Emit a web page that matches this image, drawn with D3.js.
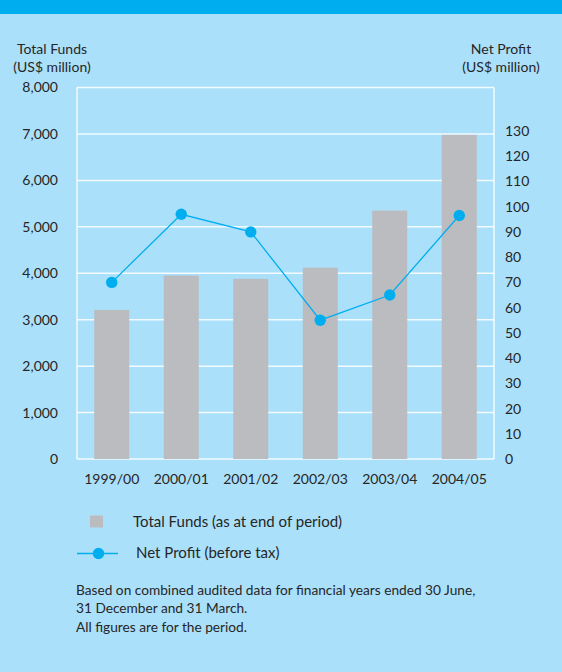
<!DOCTYPE html>
<html>
<head>
<meta charset="utf-8">
<script src="https://cdn.jsdelivr.net/npm/d3@7"></script>
<style>
  html, body { margin: 0; padding: 0; background: #abe0fa; }
  svg { display: block; }
  text { font-family: Lato, "Open Sans", sans-serif; fill: #262626; }
</style>
</head>
<body>
<svg id="chart" width="562" height="672"></svg>
<script>
// Financial periods
const periods = ["1999/00", "2000/01", "2001/02", "2002/03", "2003/04", "2004/05"];
// Total funds at end of period, US$ million (left axis)
const totalFunds = [3210, 3950, 3880, 4120, 5350, 6980];
// Net profit before tax, US$ million (right axis)
const netProfit = [70, 97, 90, 55, 65, 96.5];
// Axis ticks
const fundTicks = [0, 1000, 2000, 3000, 4000, 5000, 6000, 7000, 8000];
const profitTicks = [0, 10, 20, 30, 40, 50, 60, 70, 80, 90, 100, 110, 120, 130];
// Legend and notes
const legendLabels = ["Total Funds (as at end of period)", "Net Profit (before tax)"];
const noteLines = [
  "Based on combined audited data for financial years ended 30 June,",
  "31 December and 31 March.",
  "All figures are for the period."
];

const svg = d3.select("#chart");
const W = 562, H = 672;
const plotL = 77, plotR = 494, plotT = 87.5, plotB = 459;

const cBand = "#00aeef", cBg = "#abe0fa", cBar = "#bbbcc0", cLine = "#00aeef";

svg.append("rect").attr("width", W).attr("height", H).attr("fill", cBg);
svg.append("rect").attr("width", W).attr("height", 14).attr("fill", cBand);

const x = d3.scaleBand().domain(periods).range([plotL, plotR])
  .paddingInner(0.496).paddingOuter(0.248);
const yL = d3.scaleLinear().domain([0, 8000]).range([plotB, plotT]);
const yR = d3.scaleLinear().domain([0, 130]).range([plotB, 131]);

// gridlines
svg.append("g").selectAll("line").data(fundTicks).join("line")
  .attr("x1", plotL).attr("x2", plotR)
  .attr("y1", d => yL(d)).attr("y2", d => yL(d))
  .attr("stroke", "#ffffff").attr("stroke-opacity", 0.85).attr("stroke-width", 1.5);

// frame sides
[plotL, plotR].forEach(xp =>
  svg.append("line").attr("x1", xp).attr("x2", xp).attr("y1", plotT).attr("y2", plotB)
    .attr("stroke", "#fff").attr("stroke-opacity", 0.85).attr("stroke-width", 1.5));

// bars
svg.append("g").selectAll("rect").data(periods).join("rect")
  .attr("x", d => x(d)).attr("width", x.bandwidth())
  .attr("y", (d, i) => yL(totalFunds[i]))
  .attr("height", (d, i) => yL(0) - yL(totalFunds[i]))
  .attr("fill", cBar);

// net profit line
const cx = d => x(d) + x.bandwidth() / 2;
const line = d3.line().x((d, i) => cx(periods[i])).y(d => yR(d));
svg.append("path").datum(netProfit).attr("d", line)
  .attr("fill", "none").attr("stroke", cLine).attr("stroke-width", 1.3);
svg.append("g").selectAll("circle").data(netProfit).join("circle")
  .attr("cx", (d, i) => cx(periods[i])).attr("cy", d => yR(d))
  .attr("r", 5.7).attr("fill", cLine);

// axes
const axL = d3.axisLeft(yL).tickValues(fundTicks).tickSize(0).tickPadding(0)
  .tickFormat(d3.format(","));
const gL = svg.append("g").attr("transform", "translate(58,0)").call(axL);
const axR = d3.axisRight(yR).tickValues(profitTicks).tickSize(0).tickPadding(0);
const gR = svg.append("g").attr("transform", "translate(505,0)").call(axR);
const axB = d3.axisBottom(x).tickSize(0).tickPadding(0);
const gB = svg.append("g").attr("transform", "translate(0,480)").call(axB);
[gL, gR, gB].forEach(g => {
  g.select(".domain").remove();
  g.selectAll("text").attr("font-family", "Lato, 'Open Sans', sans-serif")
    .attr("font-size", 14).attr("fill", "#262626");
});
gB.selectAll("text").attr("dy", "0.32em");

// axis titles
const title = (lines, cxp) => lines.forEach((t, i) =>
  svg.append("text").attr("x", cxp).attr("y", 49 + i * 18.5).attr("dy", "0.35em")
    .attr("text-anchor", "middle").attr("font-size", 14).text(t));
title(["Total Funds", "(US$ million)"], 52);
title(["Net Profit", "(US$  million)"], 501);

// legend
svg.append("rect").attr("x", 90).attr("y", 515.5).attr("width", 13).attr("height", 12).attr("fill", cBar);
svg.append("text").attr("x", 133).attr("y", 521.5).attr("dy", "0.35em").attr("font-size", 15)
  .text(legendLabels[0]);
svg.append("line").attr("x1", 77).attr("x2", 118).attr("y1", 553.5).attr("y2", 553.5)
  .attr("stroke", cLine).attr("stroke-width", 1.3);
svg.append("circle").attr("cx", 98.5).attr("cy", 553.5).attr("r", 5.7).attr("fill", cLine);
svg.append("text").attr("x", 136).attr("y", 553).attr("dy", "0.35em").attr("font-size", 15)
  .text(legendLabels[1]);

// notes
noteLines.forEach((t, i) =>
  svg.append("text").attr("x", 76).attr("y", 590 + i * 18.5).attr("dy", "0.35em")
    .attr("font-size", 13.7).text(t));
</script>
</body>
</html>
